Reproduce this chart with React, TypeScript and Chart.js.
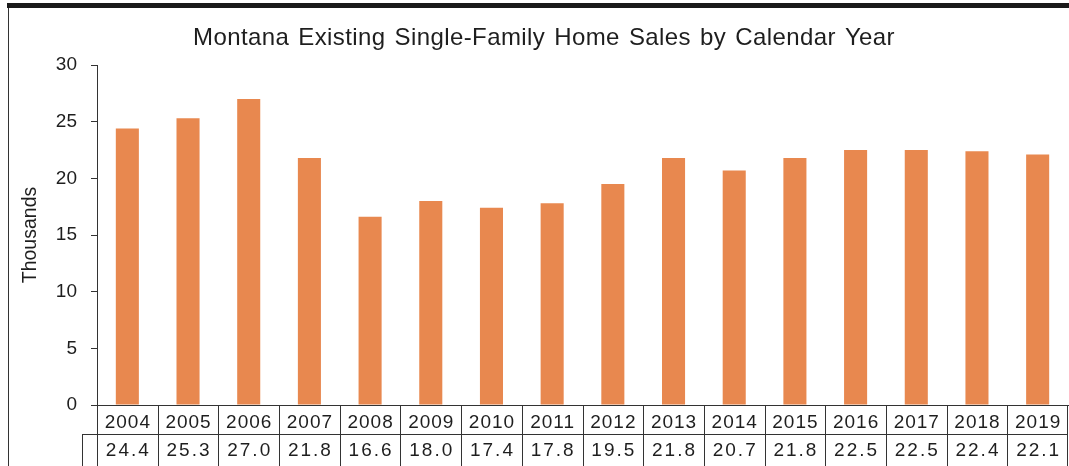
import React, { useEffect, useRef } from "react";
import { Chart, registerables } from "chart.js";

Chart.register(...registerables);

const years = ["2004", "2005", "2006", "2007", "2008", "2009", "2010", "2011", "2012", "2013", "2014", "2015", "2016", "2017", "2018", "2019"];
const sales = [24.4, 25.3, 27.0, 21.8, 16.6, 18.0, 17.4, 17.8, 19.5, 21.8, 20.7, 21.8, 22.5, 22.5, 22.4, 22.1];
const yMin = 0;
const yMax = 30;
const yStep = 5;
const chartTitle = "Montana Existing Single-Family Home Sales by Calendar Year";
const yAxisTitle = "Thousands";

const W = 1069;
const H = 466;
const FONT = "'Liberation Sans', Arial, Helvetica, sans-serif";
const TEXT = "#1e1e1e";
const LINE = "#333333";

const decorPlugin = {
  id: "decor",
  afterDraw(chart: any) {
    const ctx = chart.ctx as CanvasRenderingContext2D;
    const { left, right, bottom } = chart.chartArea;
    const x = chart.scales.x;
    const n = years.length;
    const rowDiv = 434;
    ctx.save();
    // frame
    ctx.fillStyle = "#1a1a1a";
    ctx.fillRect(7, 3, W - 7, 5);
    ctx.strokeStyle = LINE;
    ctx.lineWidth = 1;
    ctx.beginPath();
    ctx.moveTo(8.5, 8);
    ctx.lineTo(8.5, H);
    ctx.stroke();
    // table lines
    ctx.beginPath();
    for (let i = 0; i <= n; i++) {
      let bx: number;
      if (i === 0) bx = left;
      else if (i === n) bx = right;
      else bx = (x.getPixelForValue(i - 1) + x.getPixelForValue(i)) / 2;
      const px = Math.min(Math.round(bx) + 0.5, W - 1.5);
      ctx.moveTo(px, bottom);
      ctx.lineTo(px, H);
    }
    ctx.moveTo(82, rowDiv + 0.5);
    ctx.lineTo(right, rowDiv + 0.5);
    ctx.moveTo(82.5, rowDiv);
    ctx.lineTo(82.5, H);
    ctx.stroke();
    // table text
    ctx.fillStyle = TEXT;
    ctx.textAlign = "center";
    ctx.textBaseline = "middle";
    ctx.font = `19px ${FONT}`;
    (ctx as any).letterSpacing = "1px";
    for (let i = 0; i < n; i++) {
      const cx = x.getPixelForValue(i) + 0.5;
      ctx.fillText(years[i], cx, 422.5);
    }
    (ctx as any).letterSpacing = "2px";
    for (let i = 0; i < n; i++) {
      const cx = x.getPixelForValue(i) + 1;
      ctx.fillText(sales[i].toFixed(1), cx, 451);
    }
    // title
    (ctx as any).letterSpacing = "0.4px";
    (ctx as any).wordSpacing = "2px";
    ctx.font = `24px ${FONT}`;
    ctx.textBaseline = "alphabetic";
    ctx.fillText(chartTitle, 544, 44.5);
    ctx.restore();
  },
};

export default function App() {
  const ref = useRef<HTMLCanvasElement | null>(null);
  useEffect(() => {
    if (!ref.current) return;
    Chart.defaults.font.family = FONT;
    const chart = new Chart(ref.current, {
      type: "bar",
      data: {
        labels: years,
        datasets: [
          {
            label: "Sales",
            data: sales,
            backgroundColor: "#E8884F",
            borderWidth: 0,
            barPercentage: 0.38,
            categoryPercentage: 1,
          },
        ],
      },
      options: {
        animation: false,
        responsive: false,
        devicePixelRatio: 1,
        layout: { padding: { top: 65, left: 0, right: 1, bottom: 0 } },
        plugins: {
          legend: { display: false },
          title: { display: false },
          tooltip: { enabled: false },
        },
        scales: {
          x: {
            offset: true,
            ticks: { display: false },
            grid: { display: false, drawTicks: false },
            border: { display: true, color: LINE, width: 1 },
            afterFit: (s: any) => {
              s.height = 61;
            },
          },
          y: {
            min: yMin,
            max: yMax,
            ticks: { stepSize: yStep, color: TEXT, font: { size: 19 }, padding: 14 },
            grid: { drawOnChartArea: false, drawTicks: true, tickLength: 6, color: LINE },
            border: { display: true, color: LINE, width: 1 },
            title: {
              display: true,
              text: yAxisTitle,
              color: TEXT,
              font: { size: 19.5 },
              padding: { top: 19, bottom: 0 },
            },
            afterFit: (s: any) => {
              s.width = 97;
            },
          },
        },
      },
      plugins: [decorPlugin],
    });
    return () => chart.destroy();
  }, []);
  return (
    <div style={{ position: "absolute", left: 0, top: 0, width: W, height: H, background: "#fff" }}>
      <canvas ref={ref} width={W} height={H} style={{ display: "block", width: W, height: H }} />
    </div>
  );
}
